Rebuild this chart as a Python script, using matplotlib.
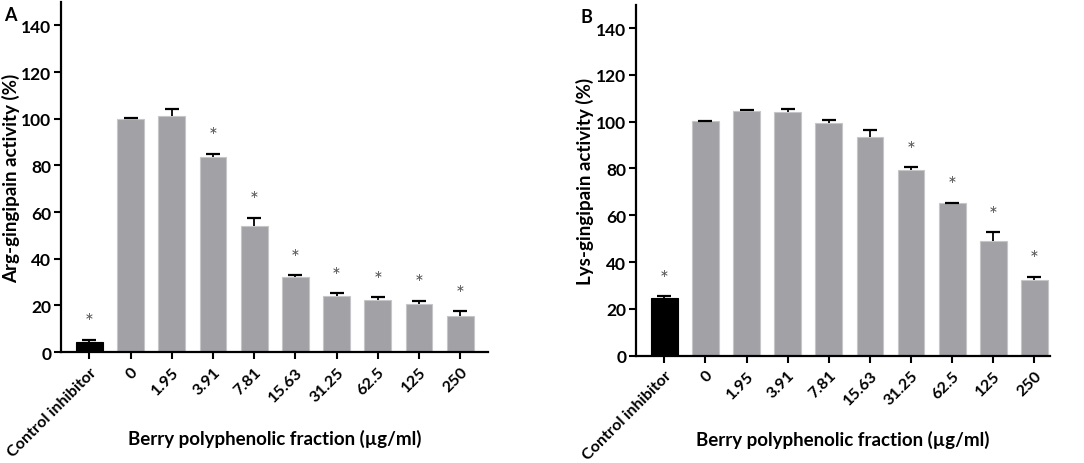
import numpy as np
import matplotlib
matplotlib.use("Agg")
import matplotlib.pyplot as plt

# categories on the x axis (same for both panels)
categories = ["Control inhibitor", "0", "1.95", "3.91", "7.81", "15.63",
              "31.25", "62.5", "125", "250"]

# panel A: Arg-gingipain activity (%) and upper error (top of error bar)
arg_mean = [4.3, 100.0, 101.4, 83.8, 54.2, 32.0, 24.0, 22.2, 20.4, 15.5]
arg_top = [5.3, 100.5, 104.4, 85.0, 57.6, 33.0, 25.3, 23.4, 21.9, 17.5]
arg_sig = [True, False, False, True, True, True, True, True, True, True]

# panel B: Lys-gingipain activity (%)
lys_mean = [24.6, 100.1, 104.7, 104.2, 99.5, 93.5, 79.4, 65.1, 49.1, 32.2]
lys_top = [25.3, 100.4, 105.0, 105.4, 100.8, 96.4, 80.5, 65.4, 52.8, 33.6]
lys_sig = [True, False, False, False, False, False, True, True, True, True]

plt.rcParams['font.family'] = ['Lato', 'DejaVu Sans']
plt.rcParams['font.weight'] = 'bold'
plt.rcParams['axes.labelweight'] = 'bold'

bar_grey = '#a2a1a6'
star_grey = '#555555'


def draw_panel(ax, mean, top, sig, ylabel, letter, xmax, ylab_x, xlab_y):
    x = np.arange(len(categories))
    mean = np.array(mean)
    err = np.array(top) - mean
    colors = ['black'] + [bar_grey] * (len(mean) - 1)
    edges = ['black'] + ['#c6c6c8'] * (len(mean) - 1)
    ax.bar(x, mean, width=0.65, color=colors, edgecolor=edges, linewidth=0.8,
           zorder=2)
    eb = ax.errorbar(x, mean, yerr=[np.zeros_like(err), err], fmt='none',
                     ecolor='black', elinewidth=1.3, capsize=4.8, capthick=1.6,
                     zorder=3)
    # only the upper cap is shown
    eb[1][0].set_visible(False)
    for xi, t, s in zip(x, top, sig):
        if s:
            ax.text(xi, t + 7.5, '*', ha='center', va='center',
                    fontsize=15, color=star_grey, fontweight='normal')

    ax.set_ylim(0, 150)
    ax.set_xlim(-0.69, xmax)
    ax.set_yticks(np.arange(0, 141, 20))
    ax.set_xticks(x)
    ax.set_xticklabels(categories, rotation=45, ha='right',
                       rotation_mode='anchor', fontsize=11.6)
    ax.tick_params(axis='y', labelsize=12.5, width=1.5, length=5, pad=2)
    ax.tick_params(axis='x', width=1.5, length=5, pad=4)
    for sp in ['top', 'right']:
        ax.spines[sp].set_visible(False)
    for sp in ['left', 'bottom']:
        ax.spines[sp].set_linewidth(1.6)
    ax.set_ylabel(ylabel, fontsize=13.5)
    ax.yaxis.set_label_coords(ylab_x, 0.5)
    ax.set_xlabel('Berry polyphenolic fraction (µg/ml)', fontsize=13.5)
    ax.xaxis.set_label_coords(0.5, xlab_y)
    ax.text(-0.133, 0.99, letter, transform=ax.transAxes, fontsize=13,
            fontweight='bold', ha='left', va='top')


fig = plt.figure(figsize=(10.84, 4.64), dpi=100)
axA = fig.add_axes([0.0563, 0.2392, 0.394, 0.754])
axB = fig.add_axes([0.5867, 0.2315, 0.382, 0.756])

draw_panel(axA, arg_mean, arg_top, arg_sig, 'Arg-gingipain activity (%)', 'A',
           9.68, -0.096, -0.22)
draw_panel(axB, lys_mean, lys_top, lys_sig, 'Lys-gingipain activity (%)', 'B',
           9.38, -0.101, -0.213)

fig.savefig('out.png', dpi=100)
